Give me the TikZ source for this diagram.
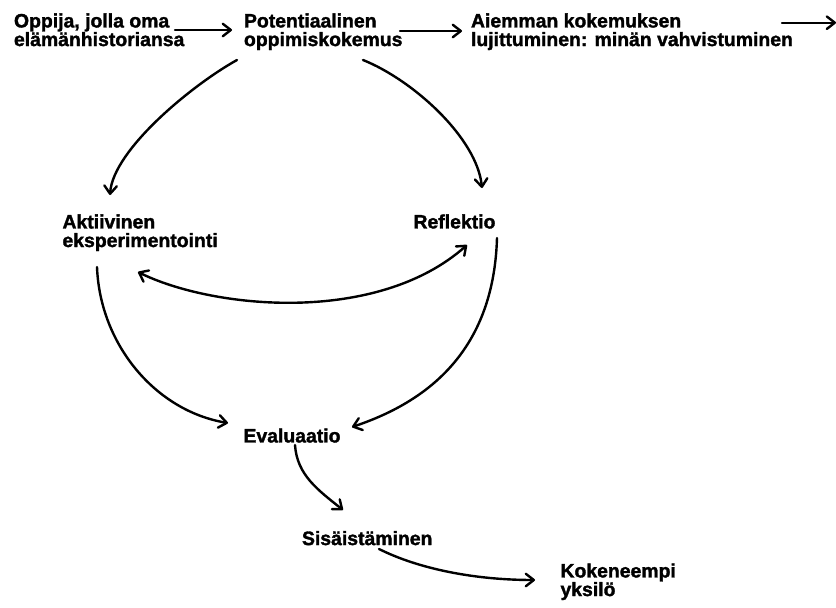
\documentclass[tikz,border=0pt]{standalone}
\usepackage{fontspec}
\setmainfont{Liberation Sans}[BoldFeatures={FakeBold=1.6}]
\usetikzlibrary{arrows.meta}
\begin{document}
\begin{tikzpicture}[x=1pt,y=-1pt,
  lbl/.style={anchor=north west,inner sep=0pt,outer sep=0pt,align=left,
    font=\fontsize{19.4}{18.6}\selectfont\bfseries},
  barb/.tip={Straight Barb[length=8pt,width=12.5pt,line cap=round,line join=round]},
  conn/.style={line width=2.4pt,line cap=round,-barb},
  both/.style={line width=2.4pt,line cap=round,barb-barb}]
\useasboundingbox (0,0) rectangle (836,608);
% nodes
\node[lbl] (A)   at (14,13.4)    {Oppija, jolla oma\\elämänhistoriansa};
\node[lbl] (B)   at (244,13.4)   {Potentiaalinen\\oppimiskokemus};
\node[lbl] (C)   at (471,13.4)   {Aiemman kokemuksen\\lujittuminen: minän vahvistuminen};
\node[lbl] (Akt) at (62.5,214.4) {Aktiivinen\\eksperimentointi};
\node[lbl] (Ref) at (413.5,214.4){Reflektio};
\node[lbl] (Eva) at (243.5,428.4){Evaluaatio};
\node[lbl] (Sis) at (302,531)    {Sisäistäminen};
\node[lbl] (Kok) at (560.5,563.4){Kokeneempi\\yksilö};
\coordinate (cOut) at (836,22.7);
% connectors
\draw[conn] ([shift={(161,16.6)}]A.north west) -- ([shift={(-12,16.6)}]B.north west);
\draw[conn] ([shift={(156,17.6)}]B.north west) -- ([shift={(-9,17.6)}]C.north west);
\draw[conn] ([shift={(311,9.3)}]C.north west) -- (cOut);
\draw[conn] ([shift={(-7,46.6)}]B.north west) .. controls +(-45,25) and +(3,-45) .. ([shift={(47.5,-19.4)}]Akt.north west);
\draw[conn] ([shift={(119,46.6)}]B.north west) .. controls +(50,20) and +(-5,-50) .. ([shift={(68.5,-26.4)}]Ref.north west);
\draw[both] ([shift={(75.5,57.6)}]Akt.north west) .. controls +(75,37) and +(-90,80) .. ([shift={(53.5,30.6)}]Ref.north west);
\draw[conn] ([shift={(34.5,52.6)}]Akt.north west) .. controls +(3,78) and +(-72,-12) .. ([shift={(-15.5,-5.4)}]Eva.north west);
\draw[conn] ([shift={(83.5,23.6)}]Ref.north west) .. controls +(-3,100) and +(90,-30) .. ([shift={(108.5,-1.4)}]Eva.north west);
\draw[conn] ([shift={(51.5,16.6)}]Eva.north west) .. controls +(2,30) and +(-25,-20) .. ([shift={(41,-21)}]Sis.north west);
\draw[conn] ([shift={(77,18)}]Sis.north west) .. controls +(40,20) and +(-60,0) .. ([shift={(-25.5,16.6)}]Kok.north west);
\end{tikzpicture}
\end{document}
